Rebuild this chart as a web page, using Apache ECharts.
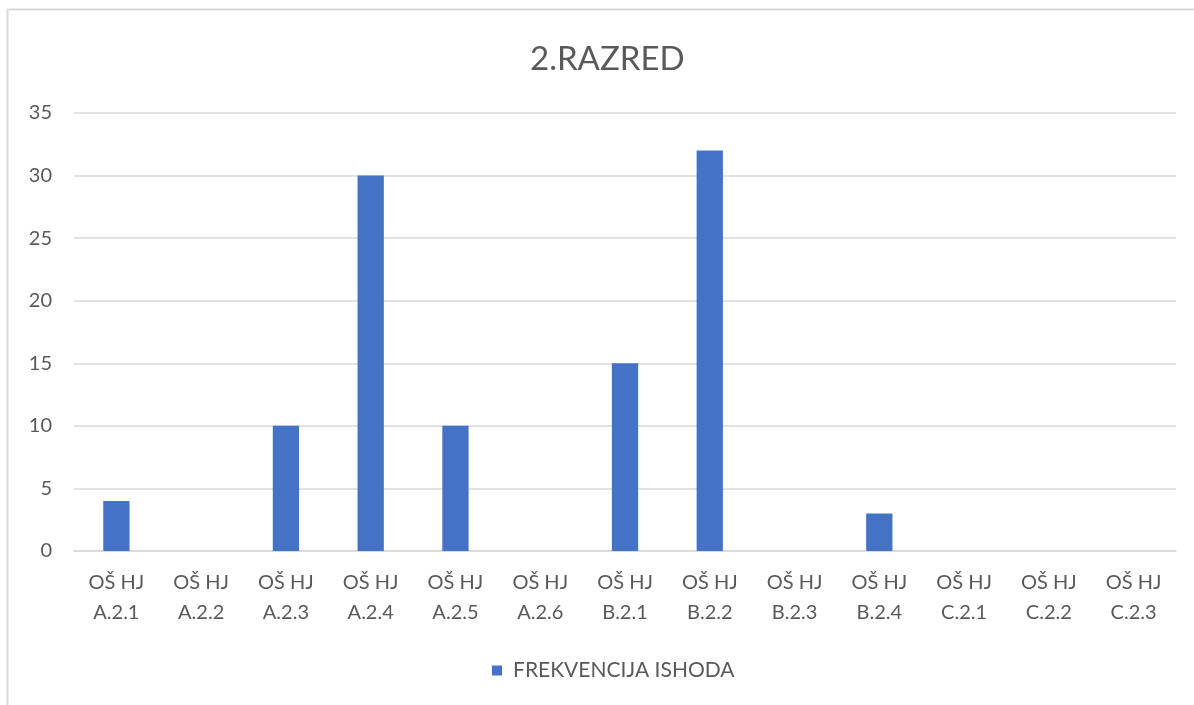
<!DOCTYPE html>
<html>
<head>
<meta charset="utf-8">
<script src="https://cdn.jsdelivr.net/npm/echarts@6/dist/echarts.min.js"></script>
<style>
  html, body { margin: 0; padding: 0; background: #fff; }
  #chart { width: 1194px; height: 705px; }
</style>
</head>
<body>
<div id="chart"></div>
<script>
// podaci
const categories = [
  'OŠ HJ\nA.2.1', 'OŠ HJ\nA.2.2', 'OŠ HJ\nA.2.3', 'OŠ HJ\nA.2.4', 'OŠ HJ\nA.2.5',
  'OŠ HJ\nA.2.6', 'OŠ HJ\nB.2.1', 'OŠ HJ\nB.2.2', 'OŠ HJ\nB.2.3', 'OŠ HJ\nB.2.4',
  'OŠ HJ\nC.2.1', 'OŠ HJ\nC.2.2', 'OŠ HJ\nC.2.3'
];
const frekvencija = [4, 0, 10, 30, 10, 0, 15, 32, 0, 3, 0, 0, 0];
const seriesName = 'FREKVENCIJA ISHODA';

const chart = echarts.init(document.getElementById('chart'));
const font = 'Lato, "Open Sans", sans-serif';

chart.setOption({
  backgroundColor: '#fff',
  animation: false,
  textStyle: { fontFamily: font },
  title: {
    text: '2.RAZRED',
    left: 525,
    top: 38,
    textStyle: { color: '#595959', fontSize: 33, fontWeight: 'normal', fontFamily: font }
  },
  graphic: [{
    type: 'rect',
    silent: true,
    shape: { x: 7.5, y: 9.5, width: 1300, height: 800 },
    style: { fill: 'none', stroke: '#d9d9d9', lineWidth: 2 }
  }],
  grid: { left: 74, right: 18, top: 113, bottom: 154 },
  legend: {
    data: [seriesName],
    bottom: 19,
    left: 487,
    itemWidth: 10,
    itemHeight: 10,
    icon: 'rect',
    textStyle: { color: '#595959', fontSize: 21, fontFamily: font, padding: [0, 0, 0, 6] }
  },
  xAxis: {
    type: 'category',
    data: categories,
    axisLine: { lineStyle: { color: '#d9d9d9', width: 1.5 } },
    axisTick: { show: false },
    axisLabel: {
      color: '#595959', fontSize: 20, lineHeight: 30, margin: 17, interval: 0,
      fontFamily: font
    }
  },
  yAxis: {
    type: 'value',
    min: 0,
    max: 35,
    interval: 5,
    axisLine: { show: false },
    axisTick: { show: false },
    axisLabel: { color: '#595959', fontSize: 20, margin: 22, fontFamily: font },
    splitLine: { lineStyle: { color: '#d9d9d9', width: 1.5 } }
  },
  series: [{
    name: seriesName,
    type: 'bar',
    data: frekvencija,
    barWidth: '31%',
    itemStyle: { color: '#4472c4' }
  }]
});
</script>
</body>
</html>
